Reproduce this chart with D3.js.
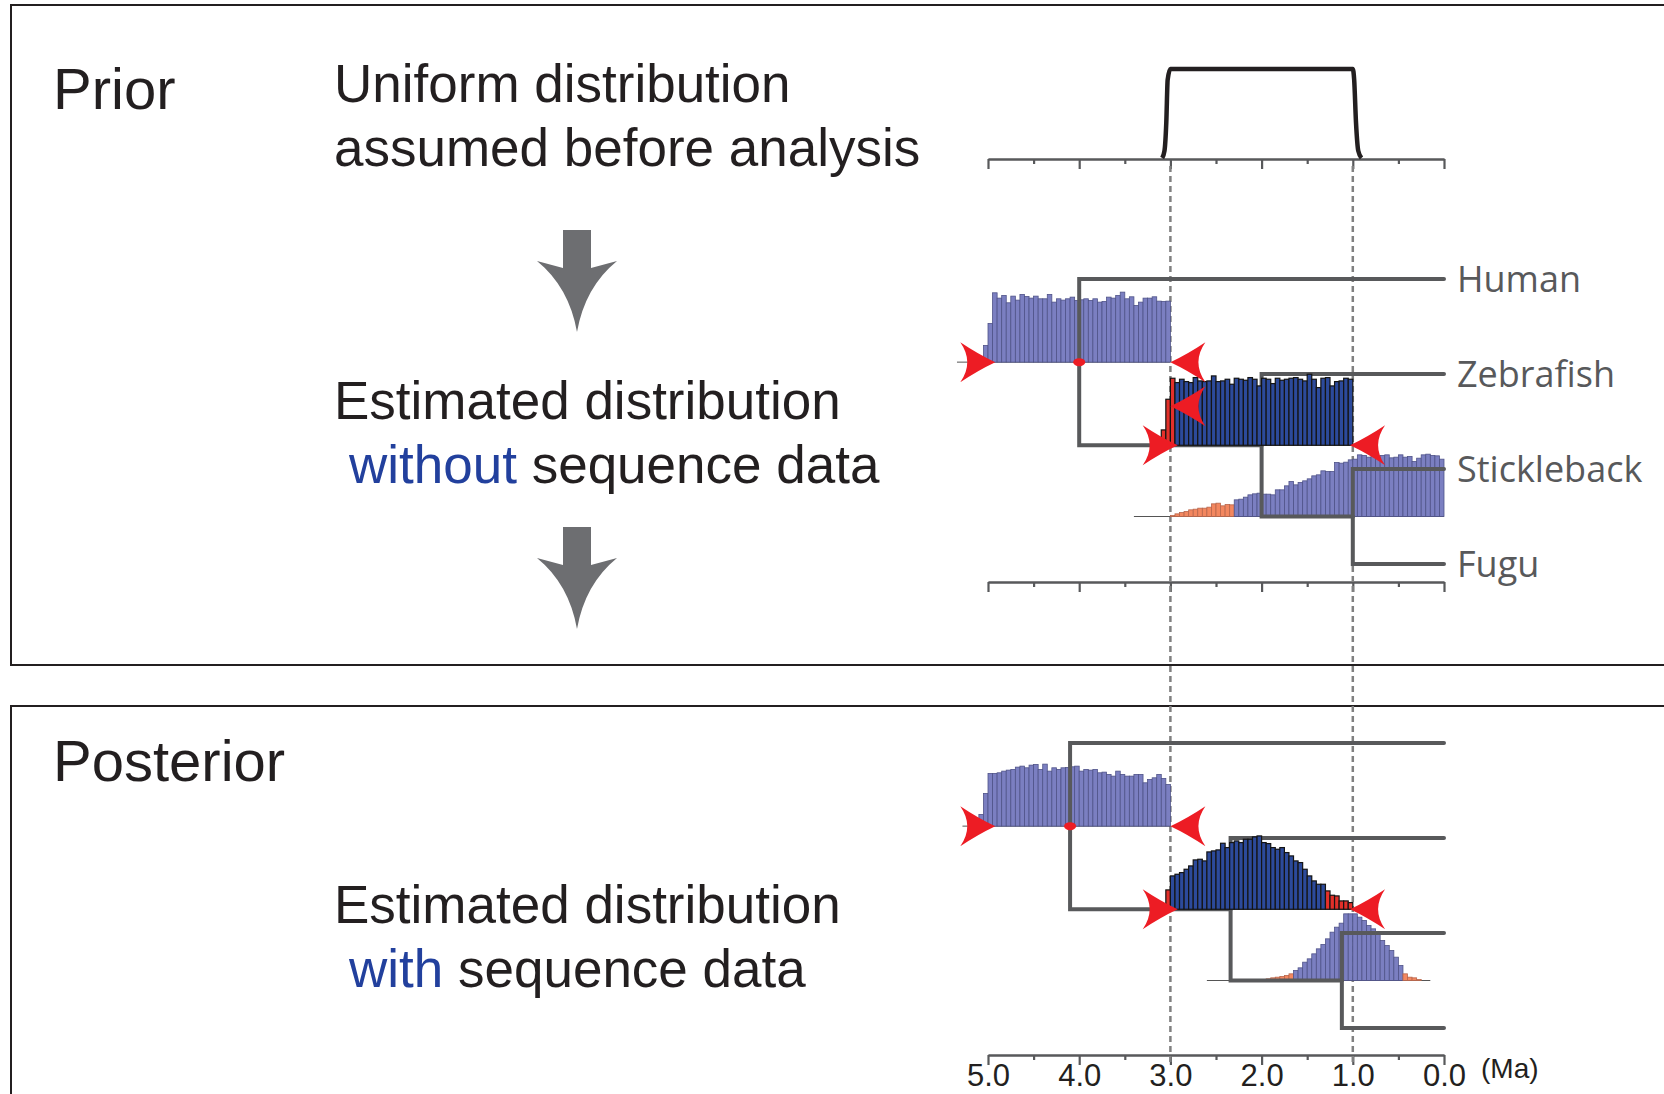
<!DOCTYPE html>
<html>
<head>
<meta charset="utf-8">
<script src="https://cdn.jsdelivr.net/npm/d3@7"></script>
<style>
  body { margin: 0; background: #fff; }
</style>
</head>
<body>
<div id="chart"></div>
<script>
// ---------- data ----------
const ageTicks = [5, 4.5, 4, 3.5, 3, 2.5, 2, 1.5, 1, 0.5, 0];
const ageLabels = ["5.0", "4.0", "3.0", "2.0", "1.0", "0.0"];
const species = ["Human", "Zebrafish", "Stickleback", "Fugu"];
const calibBounds = [3.0, 1.0];

// soft-bounded uniform prior on the zebrafish split
const priorCurveMa = [3.09, 3.065, 3.045, 3.03, 3.0, 1.0, 0.985, 0.965, 0.94, 0.905];
const priorCurveDensity = [0, 0.08, 0.4, 0.88, 1, 1, 0.88, 0.4, 0.08, 0];

// node ages (root, zebrafish split, stickleback/fugu split)
const priorNodeAges = [4.0, 2.0, 1.0];
const postNodeAges = [4.1, 2.34, 1.12];

const binWidth = 0.05;

// histograms without sequence data (first bin edge, counts, tail bins left/right)
const priorRootStart = 5.05;
const priorRootCounts = [50,116,208,192,200,178,198,186,203,197,192,198,190,190,203,180,190,186,190,195,
  185,187,190,185,190,180,182,195,192,200,210,190,196,170,180,192,192,196,183,182,183];
const priorZebraStart = 3.1;
const priorZebraCounts = [46,138,201,188,198,191,188,203,193,191,193,208,191,193,198,183,201,198,195,203,198,
  178,201,198,185,201,195,198,201,203,198,193,213,198,173,201,203,178,191,193,201,198];
const priorZebraTails = [3, 0];
const priorSFStart = 3.0;
const priorSFCounts = [3,8,12,15,20,22,25,25,28,38,40,32,36,35,
  50,52,58,65,68,70,67,67,65,80,80,92,105,95,102,107,113,122,125,137,135,135,162,160,163,170,
  172,185,183,178,182,178,183,185,176,178,185,178,180,165,175,185,187,183,182,172];
const priorSFTails = [14, 0];

// histograms with sequence data
const postRootStart = 5.1;
const postRootCounts = [35,98,158,158,160,165,168,170,177,180,175,183,185,170,186,165,175,170,175,176,
  178,180,165,170,168,170,160,162,155,150,165,155,150,150,155,155,130,140,145,155,143,125];
const postZebraStart = 3.05;
const postZebraCounts = [58,100,105,110,120,130,148,150,145,172,175,178,198,185,200,205,200,210,210,217,
  220,200,197,185,180,185,170,160,145,140,120,100,85,75,75,55,42,40,25,25,20];
const postZebraTails = [1, 6];
const postSFStart = 2.0;
const postSFCounts = [3,5,8,10,12,15,20,30,38,55,65,80,95,108,125,145,160,172,200,200,200,190,180,165,
  155,145,120,105,90,70,45,20,10,8,3];
const postSFTails = [7, 4];

// thin baseline extents of each histogram (Ma)
const priorBaseExtents = [[5.34, 3.0], [3.3, 1.0], [3.4, 0.0]];
const postBaseExtents = [[5.28, 3.0], [3.33, 1.0], [2.6, 0.15]];

// 95% HPD markers: node index, age, direction (1 = points right), lift above baseline
const priorArrowNode = [0, 0, 1, 1, 1];
const priorArrowMa = [4.92, 3.0, 2.92, 1.03, 3.0];
const priorArrowDir = [1, -1, 1, -1, -1];
const priorArrowLift = [0, 0, 0, 0, 39];
const postArrowNode = [0, 0, 1, 1];
const postArrowMa = [4.92, 3.0, 2.92, 1.03];
const postArrowDir = [1, -1, 1, -1];
const postArrowLift = [0, 0, 0, 0];

// ---------- drawing ----------
const W = 1664, H = 1094;
const ink = "#231f20", treeCol = "#58595b";
const svg = d3.select("#chart").append("svg")
  .attr("width", W).attr("height", H)
  .style("background", "#fff");

const x = d3.scaleLinear().domain([5, 0]).range([988, 1444]);
const hScale = d3.scaleLinear().domain([0, 300]).range([0, 100]);
const rowStep = 95;

// panel boxes
svg.append("rect").attr("x", 11).attr("y", 5).attr("width", 1720).attr("height", 660)
  .attr("fill", "none").attr("stroke", ink).attr("stroke-width", 2);
svg.append("rect").attr("x", 11).attr("y", 706).attr("width", 1720).attr("height", 500)
  .attr("fill", "none").attr("stroke", ink).attr("stroke-width", 2);

// left-hand text
const txt = svg.append("g").attr("font-family", "'Liberation Sans', Arial, sans-serif").attr("fill", ink);
txt.append("text").attr("x", 53).attr("y", 109).attr("font-size", 58).text("Prior");
txt.append("text").attr("x", 53).attr("y", 781).attr("font-size", 58).text("Posterior");
txt.append("text").attr("x", 334).attr("y", 102).attr("font-size", 53).text("Uniform distribution");
txt.append("text").attr("x", 334).attr("y", 166).attr("font-size", 53).text("assumed before analysis");
txt.append("text").attr("x", 334).attr("y", 419).attr("font-size", 53).text("Estimated distribution");
const l2 = txt.append("text").attr("x", 349).attr("y", 483).attr("font-size", 53);
l2.append("tspan").attr("fill", "#22409d").text("without");
l2.append("tspan").text(" sequence data");
txt.append("text").attr("x", 334).attr("y", 923).attr("font-size", 53).text("Estimated distribution");
const l4 = txt.append("text").attr("x", 349).attr("y", 987).attr("font-size", 53);
l4.append("tspan").attr("fill", "#22409d").text("with");
l4.append("tspan").text(" sequence data");

// grey flow arrows
[230, 527].forEach(top => {
  const tx = 577, ty = top + 102;
  const p = `M${tx},${ty} Q${tx - 8},${ty - 45} ${tx - 40},${ty - 71} L${tx - 14},${ty - 64} V${top} H${tx + 14} V${ty - 64} L${tx + 40},${ty - 71} Q${tx + 8},${ty - 45} ${tx},${ty} Z`;
  svg.append("path").attr("d", p).attr("fill", "#6d6e71");
});

// axes
function drawAxis(y, withLabels) {
  const g = svg.append("g").attr("transform", `translate(0,${y})`);
  const major = d3.axisBottom(x).tickValues(ageTicks.filter(d => d % 1 === 0))
    .tickSize(10).tickSizeOuter(0)
    .tickFormat((d, i) => withLabels ? ageLabels[i] : "");
  const minor = d3.axisBottom(x).tickValues(ageTicks.filter(d => d % 1 !== 0))
    .tickSize(5).tickSizeOuter(0).tickFormat("");
  g.append("g").call(minor);
  g.append("g").call(major);
  g.selectAll(".domain, line").attr("stroke", treeCol).attr("stroke-width", 2.2);
  g.selectAll("text").attr("y", 31).attr("dy", 0)
    .attr("font-size", 31).attr("font-family", "'Liberation Sans', Arial, sans-serif")
    .attr("fill", ink);
  return g;
}
drawAxis(159, false);
drawAxis(582, false);
drawAxis(1055, true);
svg.append("text").attr("x", 1481).attr("y", 1078)
  .attr("font-family", "'Liberation Sans', Arial, sans-serif").attr("font-size", 28)
  .attr("fill", ink).text("(Ma)");

// prior density curve
const yPrior = d3.scaleLinear().domain([0, 1]).range([158, 69]);
svg.append("path")
  .datum(priorCurveMa.map((m, i) => [m, priorCurveDensity[i]]))
  .attr("d", d3.line().x(d => x(d[0])).y(d => yPrior(d[1])).curve(d3.curveMonotoneX))
  .attr("fill", "none").attr("stroke", ink).attr("stroke-width", 4.5);

// dashed calibration bounds
svg.selectAll(".bound").data(calibBounds).enter().append("line")
  .attr("x1", d => x(d)).attr("x2", d => x(d))
  .attr("y1", 166).attr("y2", 1062)
  .attr("stroke", "#808080").attr("stroke-width", 2.5).attr("stroke-dasharray", "6,4");

// panels
const panels = [
  { tipTop: 279, ages: priorNodeAges, labels: true,
    hists: [
      { start: priorRootStart, counts: priorRootCounts, tails: [0, 0], dark: false },
      { start: priorZebraStart, counts: priorZebraCounts, tails: priorZebraTails, dark: true },
      { start: priorSFStart, counts: priorSFCounts, tails: priorSFTails, dark: false }
    ],
    base: priorBaseExtents,
    arrows: priorArrowMa.map((m, i) => ({ node: priorArrowNode[i], ma: m, dir: priorArrowDir[i], lift: priorArrowLift[i] }))
  },
  { tipTop: 743, ages: postNodeAges, labels: false,
    hists: [
      { start: postRootStart, counts: postRootCounts, tails: [0, 0], dark: false },
      { start: postZebraStart, counts: postZebraCounts, tails: postZebraTails, dark: true },
      { start: postSFStart, counts: postSFCounts, tails: postSFTails, dark: false }
    ],
    base: postBaseExtents,
    arrows: postArrowMa.map((m, i) => ({ node: postArrowNode[i], ma: m, dir: postArrowDir[i], lift: postArrowLift[i] }))
  }
];

function drawHist(g, h, baseY) {
  const n = h.counts.length;
  const bins = h.counts.map((c, i) => ({
    x0: h.start - i * binWidth, x1: h.start - (i + 1) * binWidth, c: c,
    tail: i < h.tails[0] || i >= n - h.tails[1]
  }));
  g.selectAll(null).data(bins).enter().append("rect")
    .attr("x", d => x(d.x0))
    .attr("width", d => x(d.x1) - x(d.x0))
    .attr("y", d => baseY - hScale(d.c))
    .attr("height", d => hScale(d.c))
    .attr("fill", d => d.tail ? (h.dark ? "#e3302a" : "#f3875f") : (h.dark ? "#2c4a9b" : "#7b7fc1"))
    .attr("stroke", d => h.dark ? "#141414" : (d.tail ? "#b8664c" : "#4f5388"))
    .attr("stroke-width", h.dark ? 1.2 : 0.8);
}

// barbed arrowhead, tip at the origin, pointing right
const arrowPath = "M0,0 Q-17,-8 -35,-20 Q-21,0 -35,20 Q-17,8 0,0 Z";

panels.forEach(p => {
  const tipY = species.map((s, i) => p.tipTop + i * rowStep);
  const sfY = (tipY[2] + tipY[3]) / 2;
  const zY = (tipY[1] + sfY) / 2;
  const rootY = (tipY[0] + zY) / 2;
  const nodeY = [rootY, zY, sfY];
  const nodeX = p.ages.map(a => x(a));

  const gLight = svg.append("g");
  const gTree = svg.append("g");
  const gDark = svg.append("g");
  const gMark = svg.append("g");

  // thin baselines
  p.base.forEach((e, i) => {
    gLight.append("line").attr("x1", x(e[0])).attr("x2", x(e[1]))
      .attr("y1", nodeY[i]).attr("y2", nodeY[i])
      .attr("stroke", "#555").attr("stroke-width", 1);
  });
  p.hists.forEach((h, i) => drawHist(h.dark ? gDark : gLight, h, nodeY[i]));

  // tree (elbow links)
  const links = [
    [nodeX[0], nodeY[0], x(0), tipY[0]],
    [nodeX[0], nodeY[0], nodeX[1], nodeY[1]],
    [nodeX[1], nodeY[1], x(0), tipY[1]],
    [nodeX[1], nodeY[1], nodeX[2], nodeY[2]],
    [nodeX[2], nodeY[2], x(0), tipY[2]],
    [nodeX[2], nodeY[2], x(0), tipY[3]]
  ];
  gTree.selectAll("path").data(links).enter().append("path")
    .attr("d", d => `M${d[0]},${d[1]}V${d[3]}H${d[2]}`)
    .attr("fill", "none").attr("stroke", treeCol).attr("stroke-width", 4)
    .attr("stroke-linecap", "round").attr("stroke-linejoin", "miter");

  if (p.labels) {
    gTree.selectAll("text").data(species).enter().append("text")
      .attr("x", x(0) + 13).attr("y", (d, i) => tipY[i]).attr("dy", "0.36em")
      .attr("font-family", "'Open Sans', 'Noto Sans', sans-serif").attr("font-size", 36)
      .attr("fill", treeCol).text(d => d);
  }

  // root marker
  gMark.append("ellipse").attr("cx", nodeX[0]).attr("cy", rootY).attr("rx", 6).attr("ry", 4)
    .attr("fill", "#ed1c24");

  // HPD arrowheads
  gMark.selectAll("path").data(p.arrows).enter().append("path")
    .attr("d", arrowPath)
    .attr("transform", d => `translate(${x(d.ma)},${nodeY[d.node] - d.lift}) scale(${d.dir},1)`)
    .attr("fill", "#ed1c24");
});
</script>
</body>
</html>
